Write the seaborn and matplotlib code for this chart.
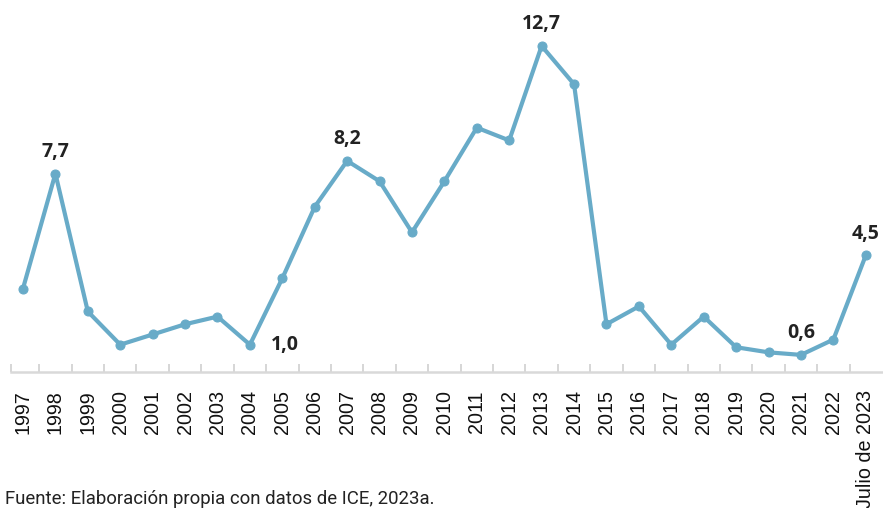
import matplotlib
matplotlib.use("Agg")
import matplotlib.pyplot as plt
import seaborn as sns
import pandas as pd
import numpy as np

years = ["1997", "1998", "1999", "2000", "2001", "2002", "2003", "2004", "2005",
         "2006", "2007", "2008", "2009", "2010", "2011", "2012", "2013", "2014",
         "2015", "2016", "2017", "2018", "2019", "2020", "2021", "2022",
         "Julio de 2023"]
values = [3.2, 7.7, 2.3, 1.0, 1.4, 1.8, 2.1, 1.0, 3.6,
          6.4, 8.2, 7.4, 5.4, 7.4, 9.5, 9.0, 12.7, 11.2,
          1.8, 2.5, 1.0, 2.1, 0.9, 0.7, 0.6, 1.2, 4.5]
labeled = {"1998": "7,7", "2004": "1,0", "2007": "8,2", "2013": "12,7",
           "2021": "0,6", "Julio de 2023": "4,5"}
source = "Fuente: Elaboración propia con datos de ICE, 2023a."

df = pd.DataFrame({"year": years, "value": values})

sns.set_theme(style="white")
plt.rcParams["font.family"] = ["Liberation Sans", "DejaVu Sans"]

line_color = "#68ABC8"
fig = plt.figure(figsize=(8.83, 5.08), dpi=100)
ax = fig.add_axes([11 / 883, (508 - 372) / 508, 871 / 883, 372 / 508])

sns.lineplot(data=df, x="year", y="value", ax=ax, color=line_color,
             linewidth=3.0, marker="o", markersize=6.5,
             markeredgecolor=line_color, markerfacecolor=line_color, sort=False)

n = len(years)
ax.set_xlim(-0.37, n - 0.5)
ax.set_ylim(-0.07, 14.5)

# ticks
ax.set_xticks(np.arange(n))
ax.set_xticklabels(years, rotation=90, fontsize=14.2, color="#111111")
ax.tick_params(axis="x", which="major", length=0, pad=13)
ax.set_xticks(np.concatenate([[-0.36], np.arange(n - 1) + 0.5]), minor=True)
ax.tick_params(axis="x", which="minor", direction="in", length=5.5,
               width=1.2, color="#d0d0d0", bottom=True)
ax.set_yticks([])
ax.set_xlabel("")
ax.set_ylabel("")

for s in ["top", "right", "left"]:
    ax.spines[s].set_visible(False)
ax.spines["bottom"].set_color("#d9d9d9")
ax.spines["bottom"].set_linewidth(1.8)

# data labels
for yr, txt in labeled.items():
    i = years.index(yr)
    v = values[i]
    if yr == "2004":
        off, ha, va = (15, 0), "left", "center"
    else:
        off, ha, va = (0, 8.5), "center", "bottom"
    ax.annotate(txt, (i, v), xytext=off, textcoords="offset points",
                ha=ha, va=va, fontsize=14, fontweight="bold",
                color="#222222", family=["Open Sans", "DejaVu Sans"],
                annotation_clip=False)

fig.text(5 / 883, 4.5 / 508, source, ha="left", va="baseline",
         fontsize=13.4, color="#222222", family=["Roboto", "DejaVu Sans"])

fig.savefig("out.png", dpi=100)
